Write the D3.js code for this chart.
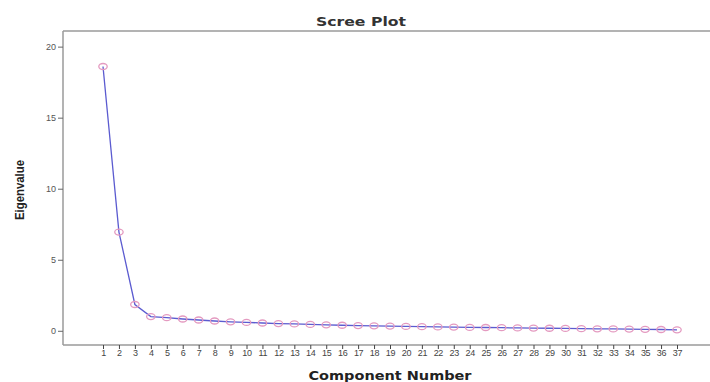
<!DOCTYPE html>
<html>
<head>
<meta charset="utf-8">
<script src="https://cdn.jsdelivr.net/npm/d3@7"></script>
<style>
  body { margin: 0; background: #fff; }
  svg { display: block; font-family: "Liberation Sans", Arial, sans-serif; }
</style>
</head>
<body>
<div id="chart"></div>
<script>
const components = d3.range(1, 38);
const eigenvalues = [18.6, 6.95, 1.85, 1.0, 0.92, 0.83, 0.76, 0.69, 0.63, 0.59, 0.55, 0.51, 0.48, 0.45,
  0.42, 0.39, 0.37, 0.35, 0.33, 0.31, 0.29, 0.27, 0.26, 0.24, 0.23, 0.22, 0.2, 0.19, 0.18, 0.17,
  0.15, 0.14, 0.13, 0.12, 0.1, 0.09, 0.07];
const yTicks = [0, 5, 10, 15, 20];

const W = 710, H = 382;
const frame = { left: 63, top: 31, right: 710, bottom: 345 };

const svg = d3.select('#chart').append('svg').attr('width', W).attr('height', H);

const x = d3.scalePoint().domain(components).range([103, 677]);
const y = d3.scaleLinear().domain([-1, 21.1]).range([frame.bottom, frame.top]);

// frame lines
svg.append('line').attr('x1', frame.left).attr('x2', frame.right).attr('y1', frame.top).attr('y2', frame.top)
  .attr('stroke', '#9a9a9a').attr('stroke-width', 1.5);

const yAxis = svg.append('g').attr('transform', `translate(${frame.left},0)`)
  .call(d3.axisLeft(y).tickValues(yTicks).tickSize(5).tickPadding(2));
yAxis.select('.domain').attr('d', `M0,${frame.top}V${frame.bottom}`).attr('stroke', '#9a9a9a').attr('stroke-width', 1.5);
yAxis.selectAll('.tick line').attr('stroke', '#666');
yAxis.selectAll('.tick text').attr('font-size', 9).attr('fill', '#555');

const xAxis = svg.append('g').attr('transform', `translate(0,${frame.bottom})`)
  .call(d3.axisBottom(x).tickSize(4).tickPadding(1));
xAxis.select('.domain').attr('d', `M${frame.left},0H${frame.right}`).attr('stroke', '#9a9a9a').attr('stroke-width', 1.5);
xAxis.selectAll('.tick line').attr('stroke', '#444');
xAxis.selectAll('.tick text').attr('font-size', 9).attr('fill', '#444').attr('letter-spacing', -0.3);

// line
svg.append('path').datum(eigenvalues)
  .attr('fill', 'none').attr('stroke', '#5b5bd0').attr('stroke-width', 1.3)
  .attr('d', d3.line().x((d, i) => x(components[i])).y(d => y(d)));

// markers
svg.append('g').selectAll('ellipse').data(eigenvalues).join('ellipse')
  .attr('cx', (d, i) => x(components[i])).attr('cy', d => y(d))
  .attr('rx', 4.2).attr('ry', 3)
  .attr('fill', 'none').attr('stroke', '#e49ac0').attr('stroke-width', 1.3);

// titles
svg.append('text').attr('x', 361).attr('y', 26).attr('text-anchor', 'middle')
  .attr('font-family', '"DejaVu Sans", sans-serif')
  .attr('font-size', 12.5).attr('font-weight', 'bold').attr('fill', '#333')
  .attr('textLength', 90).attr('lengthAdjust', 'spacingAndGlyphs').text('Scree Plot');
svg.append('text').attr('x', 390).attr('y', 380).attr('text-anchor', 'middle')
  .attr('font-family', '"DejaVu Sans", sans-serif')
  .attr('font-size', 12.5).attr('font-weight', 'bold').attr('fill', '#222')
  .attr('textLength', 163).attr('lengthAdjust', 'spacingAndGlyphs').text('Component Number');
svg.append('text').attr('transform', 'translate(24,190) rotate(-90)').attr('text-anchor', 'middle')
  .attr('font-size', 12).attr('font-weight', 'bold').attr('fill', '#222')
  .attr('textLength', 60).attr('lengthAdjust', 'spacingAndGlyphs').text('Eigenvalue');
</script>
</body>
</html>
